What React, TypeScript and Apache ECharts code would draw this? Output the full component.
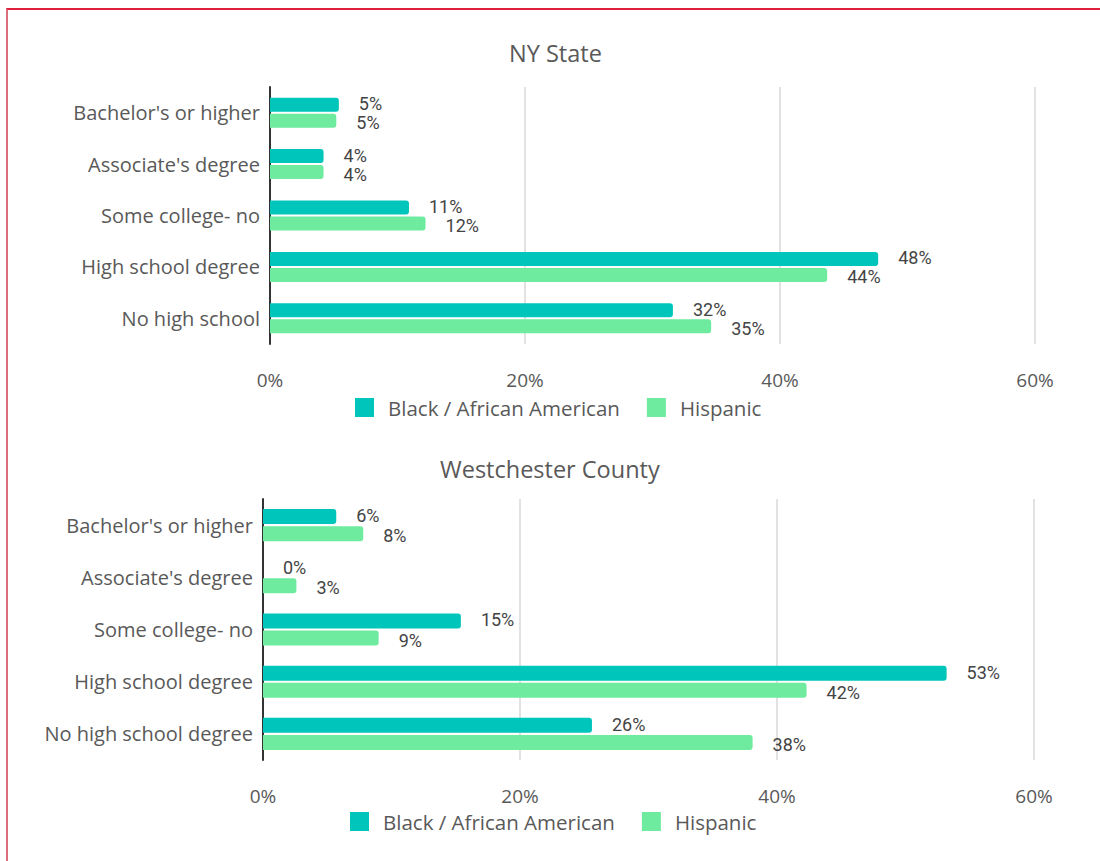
import React, { useEffect, useRef } from "react";
import * as echarts from "echarts";

const categoriesNY = ["Bachelor's or higher", "Associate's degree", "Some college- no", "High school degree", "No high school"];
const categoriesWC = ["Bachelor's or higher", "Associate's degree", "Some college- no", "High school degree", "No high school degree"];
const seriesNames = ["Black / African American", "Hispanic"];
const nyBlack = [5.4, 4.2, 10.9, 47.7, 31.6];
const nyHispanic = [5.2, 4.2, 12.2, 43.7, 34.6];
const wcBlack = [5.7, 0, 15.4, 53.2, 25.6];
const wcHispanic = [7.8, 2.6, 9.0, 42.3, 38.1];
const titles = ["NY State", "Westchester County"];
const xTicks = [0, 20, 40, 60];

const FONT = "'Open Sans', sans-serif";
const GREY = "#595959";
const TEAL = "#00c5ba";
const GREEN = "#6eeb9f";

export default function App() {
  const ref = useRef<HTMLDivElement>(null);
  useEffect(() => {
    if (!ref.current) return;
    const chart = echarts.init(ref.current, null, { renderer: "svg" });
    const xAxisCommon = (gi: number) => ({
      type: "value",
      gridIndex: gi,
      min: xTicks[0],
      max: xTicks[xTicks.length - 1],
      interval: 20,
      axisLine: { show: false },
      axisTick: { show: false },
      splitLine: { show: true, lineStyle: { color: "#d9d9d9", width: 1.5 } },
      axisLabel: {
        formatter: (v: number) => v + "%",
        color: GREY,
        fontFamily: FONT,
        fontSize: 19,
        lineHeight: 18,
        margin: 27,
        showMinLabel: true,
      },
    });
    const yAxisCommon = (gi: number, cats: string[]) => ({
      type: "category",
      gridIndex: gi,
      data: cats,
      inverse: true,
      axisLine: { show: true, lineStyle: { color: "#333333", width: 2 } },
      axisTick: { show: false },
      axisLabel: { color: GREY, fontFamily: FONT, fontSize: 20, margin: 10 },
    });
    const label = (dy: number) => ({
      show: true,
      position: "right",
      distance: 20,
      offset: [0, dy],
      lineHeight: 15,
      formatter: (p: any) => Math.round(p.value) + "%",
      color: "#444444",
      fontFamily: "Roboto, sans-serif",
      fontSize: 18,
    });
    const bar = (name: string, data: number[], color: string, xi: number, bw: number, dy: number) => ({
      type: "bar",
      name,
      data,
      xAxisIndex: xi,
      yAxisIndex: xi,
      barWidth: bw,
      barGap: "14%",
      itemStyle: { color, borderRadius: [0, 3, 3, 0] },
      label: label(dy),
    });
    const legendBase = {
      data: seriesNames,
      icon: "rect",
      itemWidth: 19,
      itemHeight: 19,
      itemGap: 27,
      padding: 0,
      selectedMode: false,
      textStyle: { color: GREY, fontFamily: FONT, fontSize: 20.5, lineHeight: 19, padding: [0, 0, 0, 9] },
    };
    chart.setOption({
      animation: false,
      title: [
        { text: titles[0], left: 509, top: 41, padding: 0, textStyle: { color: GREY, fontFamily: FONT, fontSize: 23.5, fontWeight: "normal" } },
        { text: titles[1], left: 440, top: 457, padding: 0, textStyle: { color: GREY, fontFamily: FONT, fontSize: 23.5, fontWeight: "normal" } },
      ],
      legend: [
        { ...legendBase, left: 355, top: 397 },
        { ...legendBase, left: 350, top: 811 },
      ],
      grid: [
        { left: 270, width: 765, top: 87, height: 257 },
        { left: 263, width: 771, top: 499, height: 261 },
      ],
      xAxis: [xAxisCommon(0), xAxisCommon(1)],
      yAxis: [yAxisCommon(0, categoriesNY), yAxisCommon(1, categoriesWC)],
      series: [
        bar(seriesNames[0], nyBlack, TEAL, 0, 14, -1),
        bar(seriesNames[1], nyHispanic, GREEN, 0, 14, 2),
        bar(seriesNames[0], wcBlack, TEAL, 1, 15, -1),
        bar(seriesNames[1], wcHispanic, GREEN, 1, 15, 2),
      ],
    });
    return () => chart.dispose();
  }, []);
  return (
    <div style={{ position: "absolute", left: 0, top: 0, width: 1100, height: 861, background: "#fff", overflow: "hidden" }}>
      <div style={{ position: "absolute", left: 6, top: 8, width: 1200, height: 1000, borderTop: "2px solid #e0203a", borderLeft: "2px solid #d96f7b" }} />
      <div ref={ref} style={{ position: "absolute", left: 0, top: 0, width: 1100, height: 861 }} />
    </div>
  );
}
